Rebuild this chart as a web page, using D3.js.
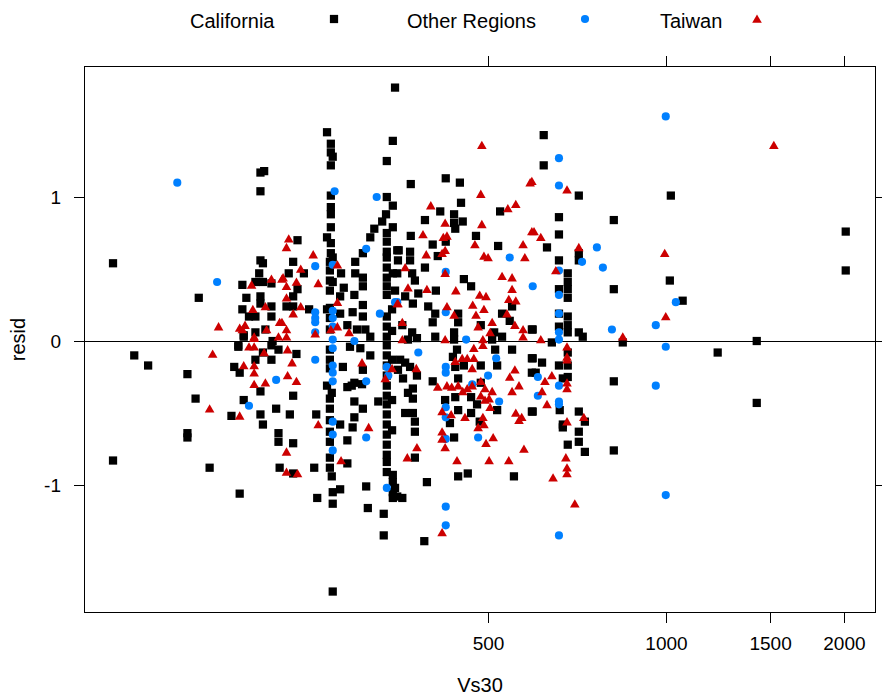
<!DOCTYPE html>
<html>
<head>
<meta charset="utf-8">
<script src="https://cdn.jsdelivr.net/npm/d3@7"></script>
<style>
  html, body { margin: 0; padding: 0; background: #fff; }
  svg { display: block; font-family: "Liberation Sans", Arial, Helvetica, sans-serif; }
</style>
</head>
<body>
<svg id="chart" width="882" height="696"></svg>
<script>
// Residuals against Vs30 (m/s), one [vs30, resid] pair per station record.
const california = [
  [206,1.17],[209,1.18],[206,1.04],[116,0.54],[162,0.30],[206,0.56],[208,0.54],[205,0.47],[202,0.41],[208,0.41],
  [215,0.40],[192,0.39],[195,0.30],[206,0.31],[206,0.26],[215,0.24],[192,0.22],[197,0.17],[202,0.17],[215,0.17],
  [202,0.06],[210,0.08],[193,0.04],[216,0.00],[189,-0.03],
  [126,-0.10],[133,-0.17],[155,-0.23],[160,-0.40],[155,-0.64],[155,-0.67],[116,-0.83],[169,-0.88],[190,-1.06],
  [189,-0.04],[208,-0.08],[215,-0.03],[215,-0.13],[221,-0.06],[202,-0.13],[186,-0.18],[190,-0.22],[206,-0.35],
  [193,-0.41],[184,-0.52],[206,-0.51],[208,-0.58],[219,-0.47],[221,-0.64],[221,-0.70],[222,-0.88],[193,0.03],
  [348,1.76],[267,1.45],[271,1.37],[271,1.31],[273,1.28],[271,1.22],[345,1.39],[337,1.25],[271,1.01],[271,0.93],
  [271,0.88],[271,0.79],[267,0.72],[271,0.68],[271,0.61],[273,0.58],[337,1.00],[345,0.94],[336,0.88],[331,0.83],
  [321,0.78],[316,0.72],[307,0.61],[298,0.55],[337,0.75],[337,0.69],[345,0.79],[351,0.63],[337,0.62],[337,0.58],
  [337,0.51],[337,0.44],[345,0.47],[337,0.38],[337,0.32],
  [238,0.70],[234,0.55],[244,0.47],[230,0.47],[238,0.36],[234,0.31],[228,0.24],[234,0.24],[249,0.22],[282,0.47],
  [270,0.49],[270,0.42],[273,0.41],[270,0.35],[285,0.37],[281,0.31],[270,0.23],[267,0.22],[281,0.19],[289,0.11],
  [298,0.47],[297,0.32],[307,0.44],[307,0.38],[295,0.20],[307,0.25],[307,0.17],[300,0.08],[310,0.08],[316,0.03],
  [337,0.17],[337,0.10],[337,0.03],[270,0.55],[270,0.16],[270,0.08],[344,0.22],[344,0.07],
  [270,-0.06],[304,-0.05],[316,-0.10],[292,-0.04],[237,-0.09],[234,-0.38],[231,-0.51],[256,-0.51],[234,-0.71],
  [234,-0.92],[254,-0.88],[270,-0.88],[272,-0.94],[270,-0.13],[270,-0.19],[284,-0.18],[267,-0.31],[272,-0.36],
  [270,-0.40],[270,-0.47],[281,-0.58],[270,-0.55],[270,-0.63],[270,-0.70],[270,-0.81],[289,-0.85],[273,-1.05],
  [281,-1.03],[257,-1.09],[273,-1.13],[273,-1.74],[294,-0.31],[289,-0.32],[297,-0.29],[306,-0.30],[307,-0.20],
  [297,-0.42],[307,-0.47],[297,-0.53],[295,-0.60],[289,-0.69],[311,-1.01],[313,-1.16],[333,-1.20],[333,-1.35],
  [326,-0.42],
  [337,-0.03],[337,-0.10],[337,-0.17],[337,-0.24],[337,-0.31],[337,-0.38],[337,-0.44],[337,-0.51],[337,-0.58],
  [337,-0.65],[337,-0.72],[337,-0.79],[337,-0.84],[337,-0.91],[345,-0.93],[345,-1.05],[345,-1.09],[348,-1.02],
  [345,-0.98],[344,-0.41],[344,-0.62],[344,-0.13],
  [424,1.13],[448,1.10],[370,1.09],[450,0.96],[415,0.90],[438,0.88],[438,0.82],[453,0.83],[440,0.78],[391,0.84],
  [524,0.90],[370,0.73],[477,0.73],[424,0.69],[520,0.66],[403,0.67],[353,0.63],[369,0.62],[411,0.59],[391,0.51],
  [369,0.56],[372,0.47],[376,0.42],[455,0.43],[468,0.38],[408,0.35],[351,0.47],[352,0.56],[348,0.35],[381,0.33],
  [362,0.31],[373,0.26],[549,0.24],[396,0.24],[407,0.19],[445,0.19],[445,0.13],[403,0.13],[528,0.19],[544,0.14],
  [486,0.11],[593,0.08],[512,0.06],[528,0.03],[358,0.11],[372,0.06],[379,0.02],[407,0.03],[438,0.06],[438,0.01],
  [508,0.01],[366,0.01],
  [514,-0.06],[549,-0.06],[443,-0.06],[436,-0.11],[455,-0.17],[440,-0.18],[486,-0.17],[518,-0.17],[355,-0.13],
  [362,-0.15],[369,-0.18],[352,-0.20],[379,-0.24],[359,-0.26],[403,-0.28],[445,-0.26],[486,-0.29],[373,-0.33],
  [366,-0.36],[373,-0.40],[423,-0.41],[440,-0.39],[468,-0.39],[518,-0.48],[479,-0.44],[468,-0.50],[445,-0.48],
  [431,-0.57],[484,-0.56],[362,-0.50],[373,-0.50],[376,-0.56],[376,-0.63],[438,-0.67],[376,-0.81],[394,-0.98],
  [445,-0.94],[462,-0.92],[553,-0.94],[358,-1.09],[351,-1.08],[390,-1.39],[593,-0.12],[593,-0.22],[593,-0.49],
  [621,1.43],[621,1.22],[712,1.01],[1019,1.01],[659,0.86],[816,0.84],[659,0.74],[629,0.65],[712,0.61],[712,0.56],
  [659,0.56],[682,0.47],[682,0.41],[659,0.36],[682,0.36],[682,0.30],[816,0.36],[1015,0.42],[659,0.19],[682,0.17],
  [659,0.10],[682,0.11],[682,0.06],[712,0.06],[723,0.03],[595,0.08],[845,-0.01],[641,-0.01],
  [682,-0.08],[595,-0.12],[617,-0.15],[659,-0.17],[682,-0.17],[602,-0.22],[669,-0.26],[682,-0.25],[816,-0.28],
  [661,-0.48],[595,-0.49],[712,-0.49],[729,-0.56],[669,-0.58],[669,-0.60],[712,-0.63],[712,-0.70],[729,-0.77],
  [682,-0.72],[816,-0.76],
  [2014,0.76],[2014,0.49],[1067,0.28],[1424,0.00],[1223,-0.08],[1424,-0.43]
];

const otherRegions = [
  [149,1.10],[174,0.41],[219,-0.27],[197,-0.45],[275,1.04],[324,1.00],[311,0.64],[348,0.27],[255,0.52],[255,0.20],
  [255,0.16],[255,0.13],[255,0.06],[273,0.53],[273,0.21],[273,0.16],[273,0.10],[273,0.01],[297,0.00],[328,0.19],
  [273,-0.05],[255,-0.13],[273,-0.17],[273,-0.22],[273,-0.28],[273,-0.56],[273,-0.65],[273,-0.76],[311,-0.28],
  [311,-0.67],[337,-0.18],[339,-0.24],[337,-1.02],
  [544,0.58],[424,0.48],[595,0.38],[351,0.27],[424,0.20],[459,0.01],[381,-0.08],[516,-0.12],[424,-0.18],[424,-0.22],
  [470,-0.30],[500,-0.24],[522,-0.42],[424,-0.46],[424,-0.53],[424,-0.68],[481,-0.67],[424,-1.15],[424,-1.28],
  [999,1.56],[659,1.27],[659,1.08],[721,0.55],[764,0.65],[782,0.51],[659,0.49],[659,0.32],[1039,0.27],[659,0.19],
  [659,0.06],[659,0.01],[810,0.08],[961,0.11],[999,-0.04],[607,-0.25],[659,-0.31],[961,-0.31],[607,-0.38],
  [659,-0.42],[659,-0.44],[999,-1.07],[659,-1.35]
];

const taiwan = [
  [199,0.39],[215,0.43],[224,0.43],[200,0.22],[210,0.24],[222,0.13],[175,0.10],[194,0.11],[190,0.09],[192,0.08],
  [211,0.08],[201,0.03],[221,0.03],
  [171,-0.09],[169,-0.47],[197,-0.04],[201,-0.04],[209,-0.08],[193,-0.17],[201,-0.17],[201,-0.22],[201,-0.30],
  [210,-0.29],[190,-0.52],[201,0.02],
  [230,0.71],[228,0.65],[253,0.60],[241,0.50],[225,0.44],[237,0.41],[228,0.38],[258,0.40],[228,0.30],[241,0.24],
  [234,0.19],[255,0.05],[224,0.13],[228,0.08],[228,0.03],[278,0.53],[278,0.27],[271,0.08],[278,0.10],[291,0.06],
  [351,0.26],
  [229,-0.06],[233,-0.15],[229,-0.24],[237,-0.28],[258,-0.58],[228,-0.77],[228,-0.91],[238,-0.92],[282,-0.83],
  [306,-0.15],[314,-0.60],[344,-0.19],[335,-0.26],
  [488,1.36],[589,1.10],[486,1.02],[400,0.94],[423,0.82],[488,0.81],[540,0.92],[557,0.95],[593,0.76],[388,0.74],
  [420,0.72],[426,0.73],[475,0.67],[573,0.67],[423,0.63],[393,0.60],[418,0.61],[492,0.59],[500,0.58],[577,0.58],
  [362,0.51],[423,0.47],[528,0.45],[549,0.44],[366,0.37],[394,0.36],[441,0.35],[549,0.36],[352,0.26],[542,0.29],
  [557,0.28],[471,0.25],[492,0.22],[426,0.24],[438,0.18],[477,0.18],[508,0.13],[538,0.19],[481,0.10],[555,0.11],
  [573,0.08],[504,0.06],[573,0.03],[358,0.13],[423,0.01],[490,0.01],[358,0.01],[484,0.32],[496,0.31],
  [490,-0.03],[473,-0.05],[440,-0.14],[452,-0.12],[461,-0.12],[473,-0.12],[470,-0.19],[378,-0.19],[411,-0.32],
  [426,-0.31],[434,-0.32],[445,-0.31],[461,-0.33],[470,-0.31],[453,-0.35],[486,-0.28],[494,-0.33],[508,-0.35],
  [486,-0.38],[494,-0.41],[502,-0.40],[504,-0.46],[457,-0.53],[418,-0.49],[433,-0.51],[481,-0.60],[492,-0.58],
  [490,-0.53],[418,-0.63],[418,-0.68],[423,-0.74],[496,-0.71],[510,-0.67],[379,-0.74],[365,-0.81],[443,-0.83],
  [502,-0.83],[542,-0.83],[575,-0.75],[418,-1.33],[555,-0.20],[544,-0.25],[564,-0.31],[549,-0.35],[557,-0.50],
  [570,-0.53],[564,-0.55],
  [680,1.05],[593,1.11],[598,0.76],[614,0.72],[712,0.65],[995,0.61],[651,0.49],[999,0.17],[845,0.03],[614,0.01],
  [680,-0.04],[680,-0.11],[680,-0.13],[641,-0.24],[624,-0.28],[680,-0.29],[680,-0.33],[617,-0.35],[629,-0.44],
  [726,-0.53],[680,-0.56],[677,-0.81],[680,-0.88],[680,-0.92],[644,-0.95],[701,-1.13],
  [1522,1.36]
];

const groupNames = ["California", "Other Regions", "Taiwan"];
const xTickValues = [500, 1000, 1500, 2000];
const yTickValues = [-1, 0, 1];
const xLimits = [103.6, 2266];
const yLimits = [-1.889, 1.910];

// ---- layout ----
const panel = { left: 84, top: 66, right: 876, bottom: 613 };
const colors = { "California": "#000000", "Other Regions": "#0080ff", "Taiwan": "#cc0000" };
const shapes = { "California": d3.symbolSquare, "Other Regions": d3.symbolCircle, "Taiwan": d3.symbolTriangle };
const sizes = { "California": 68, "Other Regions": 52, "Taiwan": 40 };
const series = [california, otherRegions, taiwan];

const svg = d3.select("#chart");

const x = d3.scaleLog().domain(xLimits).range([panel.left, panel.right]);
const y = d3.scaleLinear().domain(yLimits).range([panel.bottom, panel.top]);

const fontTick = 19, fontLab = 20;
const plainNumber = d => String(d);   // ASCII hyphen for negatives

// reference line at zero
svg.append("line")
  .attr("x1", panel.left).attr("x2", panel.right)
  .attr("y1", Math.round(y(0)) + 0.5).attr("y2", Math.round(y(0)) + 0.5)
  .attr("stroke", "#000").attr("stroke-width", 1);

// points, drawn group by group
groupNames.forEach((name, i) => {
  const sym = d3.symbol().type(shapes[name]).size(sizes[name]);
  svg.append("g").attr("class", "pts")
    .selectAll("path")
    .data(series[i])
    .join("path")
    .attr("d", sym)
    .attr("transform", d => {
      // triangles: centre the glyph on its visual middle
      const dy = name === "Taiwan" ? 1 : 0;
      return `translate(${x(d[0])},${y(d[1]) + dy})`;
    })
    .attr("fill", colors[name]);
});

// axes
function styleAxis(g) {
  g.select(".domain").remove();
  g.selectAll(".tick line").attr("stroke", "#000").attr("shape-rendering", "crispEdges");
  g.selectAll("text").attr("font-size", fontTick).attr("fill", "#000")
    .attr("font-family", "'Liberation Sans', Arial, Helvetica, sans-serif");
}

svg.append("g")
  .attr("transform", `translate(0,${panel.bottom})`)
  .call(d3.axisBottom(x).tickValues(xTickValues).tickFormat(plainNumber).tickSize(10).tickPadding(14))
  .call(styleAxis);

svg.append("g")
  .attr("transform", `translate(0,${panel.top})`)
  .call(d3.axisTop(x).tickValues(xTickValues).tickFormat("").tickSize(10))
  .call(styleAxis);

svg.append("g")
  .attr("transform", `translate(${panel.left},0)`)
  .call(d3.axisLeft(y).tickValues(yTickValues).tickFormat(plainNumber).tickSize(10).tickPadding(13))
  .call(styleAxis);

svg.append("g")
  .attr("transform", `translate(${panel.right},0)`)
  .call(d3.axisRight(y).tickValues(yTickValues).tickFormat("").tickSize(10))
  .call(styleAxis);

// panel frame
svg.append("rect")
  .attr("x", panel.left + 0.5).attr("y", panel.top + 0.5)
  .attr("width", panel.right - panel.left - 1).attr("height", panel.bottom - panel.top - 1)
  .attr("fill", "none").attr("stroke", "#000").attr("stroke-width", 1);

// axis titles
svg.append("text")
  .attr("x", (panel.left + panel.right) / 2).attr("y", 692)
  .attr("text-anchor", "middle").attr("font-size", fontLab)
  .text("Vs30");

svg.append("text")
  .attr("transform", `translate(25,${(panel.top + panel.bottom) / 2}) rotate(-90)`)
  .attr("text-anchor", "middle").attr("font-size", fontLab)
  .text("resid");

// key across the top
const keyItems = [
  { name: "California", tx: 190, sx: 334 },
  { name: "Other Regions", tx: 407, sx: 585 },
  { name: "Taiwan", tx: 660, sx: 757 }
];
const key = svg.append("g").attr("class", "key");
keyItems.forEach(k => {
  key.append("text").attr("x", k.tx).attr("y", 28).attr("font-size", fontLab).text(k.name);
  key.append("path")
    .attr("d", d3.symbol().type(shapes[k.name]).size(sizes[k.name]))
    .attr("transform", `translate(${k.sx},${k.name === "Taiwan" ? 20 : 19})`)
    .attr("fill", colors[k.name]);
});
</script>
</body>
</html>
